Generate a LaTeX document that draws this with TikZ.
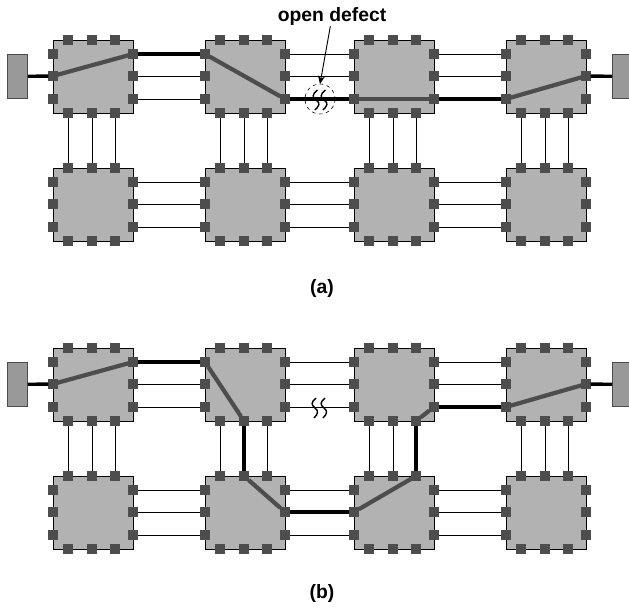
\documentclass[tikz,border=0pt]{standalone}
\usepackage{fontspec}
\usetikzlibrary{arrows.meta}
\setmainfont{Liberation Sans}
\definecolor{boxgray}{HTML}{B2B2B2}
\definecolor{termgray}{HTML}{999999}
\definecolor{pingray}{HTML}{4D4D4D}
\tikzset{
  router/.style={draw=black,fill=boxgray,line width=0.8pt,minimum width=2.4cm,minimum height=2.19cm,inner sep=0pt,anchor=north west},
  pin/.style={fill=pingray,minimum size=0.275cm,inner sep=0pt,outer sep=0pt},
  term/.style={draw=black!70,fill=termgray,line width=0.7pt,minimum width=0.6cm,minimum height=1.32cm,inner sep=0pt,anchor=north west},
  wire/.style={line width=0.8pt},
  hot/.style={line width=2.9pt},
  route/.style={line width=3.6pt,pingray},
  squig/.style={line width=1.2pt},
  caption/.style={font=\bfseries\fontsize{16.5pt}{19pt}\selectfont,inner sep=0pt}
}
\begin{document}
\begin{tikzpicture}[x=0.03cm,y=-0.03cm,>=stealth]
  \useasboundingbox (0,0) rectangle (629,612);
  % routers with their pins
  \foreach \pan/\oy in {a/0,b/308}{
    \node[term] (\pan tl) at (7,54+\oy) {};
    \node[term] (\pan tr) at (612,54+\oy) {};
    \foreach \row/\ry in {1/40,2/168}{
      \foreach \col/\cx in {1/53,2/205,3/354,4/506}{
        \node[router] (\pan\row\col) at (\cx,\ry+\oy) {};
        \foreach \i/\d in {1/15,2/39,3/62}{
          \node[pin] (\pan\row\col n\i) at (\cx+\d,\ry+\oy) {};
          \node[pin] (\pan\row\col s\i) at (\cx+\d,\ry+\oy+73) {};
        }
        \foreach \i/\d in {1/14,2/36,3/59}{
          \node[pin] (\pan\row\col w\i) at (\cx,\ry+\oy+\d) {};
          \node[pin] (\pan\row\col e\i) at (\cx+80,\ry+\oy+\d) {};
        }
      }
    }
    % links
    \foreach \i in {1,2,3}{
      \foreach \row in {1,2}{
        \draw[wire] (\pan\row1e\i) -- (\pan\row2w\i);
        \draw[wire] (\pan\row2e\i) -- (\pan\row3w\i);
        \draw[wire] (\pan\row3e\i) -- (\pan\row4w\i);
      }
      \foreach \col in {1,2,3,4}
        \draw[wire] (\pan1\col s\i) -- (\pan2\col n\i);
    }
    \draw[hot] (\pan tl) -- (\pan11w2);
    \draw[hot] (\pan14e2) -- (\pan tr);
    \draw[hot] (\pan11e1) -- (\pan12w1);
    \draw[route] (\pan11w2) -- (\pan11e1);
  }
  % route of (a)
  \draw[route] (a12w1) -- (a12e3);
  \draw[hot] (a12e3) -- (a13w3);
  \draw[route] (a13w3) -- (a13e3);
  \draw[hot] (a13e3) -- (a14w3);
  \draw[route] (a14w3) -- (a14e2);
  % route of (b)
  \draw[route] (b12w1) -- (b12s2);
  \draw[hot] (b12s2) -- (b22n2);
  \draw[route] (b22n2) -- (b22e2);
  \draw[hot] (b22e2) -- (b23w2);
  \draw[route] (b23w2) -- (b23n3);
  \draw[hot] (b23n3) -- (b13s3);
  \draw[route] (b13s3) -- (b13e3);
  \draw[hot] (b13e3) -- (b14w3);
  \draw[route] (b14w3) -- (b14e2);
  % defect
  \draw[dashed,line width=0.5pt] (320,99) circle (15);
  \foreach \dx in {0,8}
    \draw[squig] (317.5+\dx,90) .. controls (312+\dx,94) and (312+\dx,98) .. (316+\dx,100)
      .. controls (321+\dx,103) and (319+\dx,106) .. (315+\dx,110);
  \foreach \dx in {0,9}
    \draw[squig] (316+\dx,398) .. controls (311+\dx,402) and (311+\dx,405) .. (315+\dx,408)
      .. controls (319+\dx,411) and (318+\dx,414) .. (314+\dx,418);
  \node[caption] (defect) at (332,17) {open defect};
  \coordinate (defecttip) at (320,84);
  \draw[-{Stealth[length=7pt,width=6pt]},wire] (defect) -- (defecttip);
  \node[caption] (capa) at (322,288) {(a)};
  \node[caption] (capb) at (322,593) {(b)};
\end{tikzpicture}
\end{document}
